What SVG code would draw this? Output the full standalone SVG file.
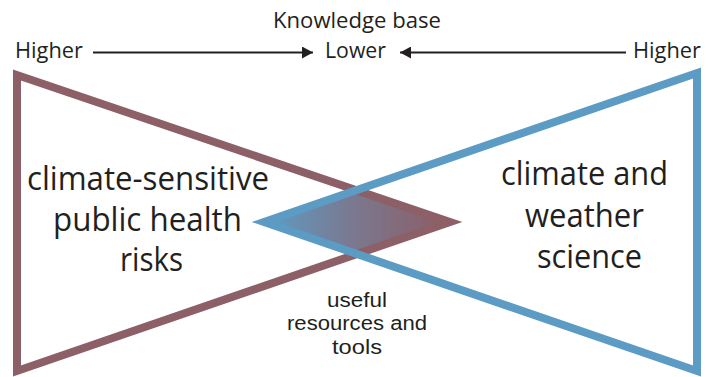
<svg xmlns="http://www.w3.org/2000/svg" width="710" height="377" viewBox="0 0 710 377">
<style>
  .t { font-family: "Open Sans", "Noto Sans", sans-serif; fill: #231f20; }
  .big { font-size: 32px; }
  .small { font-size: 21px; }
  .mid { font-family: "Liberation Sans", Arial, sans-serif; font-size: 20px; }
  .tri { fill: none; stroke-width: 8; stroke-linejoin: miter; stroke-miterlimit: 10; }
  .conn { stroke: #231f20; stroke-width: 2; fill: none; }
</style>
<defs>
  <linearGradient id="overlapGrad" gradientUnits="userSpaceOnUse" x1="268" y1="0" x2="446" y2="0">
    <stop offset="0" stop-color="#5d9bc2"/>
    <stop offset="0.45" stop-color="#7a7a92"/>
    <stop offset="1" stop-color="#8c5d65"/>
  </linearGradient>
  <marker id="arrow" viewBox="0 0 11 12" refX="11" refY="6" markerWidth="11" markerHeight="12" markerUnits="userSpaceOnUse" orient="auto">
    <path d="M0,0 L11,6 L0,12 Z" fill="#231f20"/>
  </marker>
</defs>
<rect width="710" height="377" fill="#ffffff"/>

<g id="overlap">
  <polygon points="264,222 356,190 450,222 356,254" fill="url(#overlapGrad)"/>
</g>

<g id="health-risks">
  <polygon class="tri" points="17,75 17,371 450,222" stroke="#8d5f66"/>
  <text class="t big" x="148" y="190" text-anchor="middle" textLength="242" lengthAdjust="spacingAndGlyphs">climate-sensitive</text>
  <text class="t big" x="147.5" y="231" text-anchor="middle" textLength="189" lengthAdjust="spacingAndGlyphs">public health</text>
  <text class="t big" x="151.5" y="271" text-anchor="middle" textLength="63" lengthAdjust="spacingAndGlyphs">risks</text>
</g>

<g id="climate-science">
  <polygon class="tri" points="697,73 697,371 264,222" stroke="#5c9cc4"/>
  <text class="t big" x="584.5" y="185" text-anchor="middle" textLength="167" lengthAdjust="spacingAndGlyphs">climate and</text>
  <text class="t big" x="584.5" y="227" text-anchor="middle" textLength="119" lengthAdjust="spacingAndGlyphs">weather</text>
  <text class="t big" x="589.5" y="268" text-anchor="middle" textLength="105" lengthAdjust="spacingAndGlyphs">science</text>
</g>

<g id="tools-label">
  <text class="t mid" x="357" y="307" text-anchor="middle" textLength="60" lengthAdjust="spacingAndGlyphs">useful</text>
  <text class="t mid" x="357" y="330" text-anchor="middle" textLength="140" lengthAdjust="spacingAndGlyphs">resources and</text>
  <text class="t mid" x="357" y="354" text-anchor="middle" textLength="50" lengthAdjust="spacingAndGlyphs">tools</text>
</g>

<g id="knowledge-title">
  <text class="t small" x="357" y="28" text-anchor="middle" textLength="168" lengthAdjust="spacingAndGlyphs">Knowledge base</text>
</g>
<g id="higher-left">
  <text class="t small" x="15" y="58" textLength="68" lengthAdjust="spacingAndGlyphs">Higher</text>
</g>
<g id="lower">
  <text class="t small" x="325" y="58" textLength="61" lengthAdjust="spacingAndGlyphs">Lower</text>
</g>
<g id="higher-right">
  <text class="t small" x="633" y="58" textLength="68" lengthAdjust="spacingAndGlyphs">Higher</text>
</g>

<g id="connectors">
  <line class="conn" x1="93" y1="52.5" x2="313" y2="52.5" marker-end="url(#arrow)"/>
  <line class="conn" x1="626" y1="52.5" x2="400" y2="52.5" marker-end="url(#arrow)"/>
</g>
</svg>
